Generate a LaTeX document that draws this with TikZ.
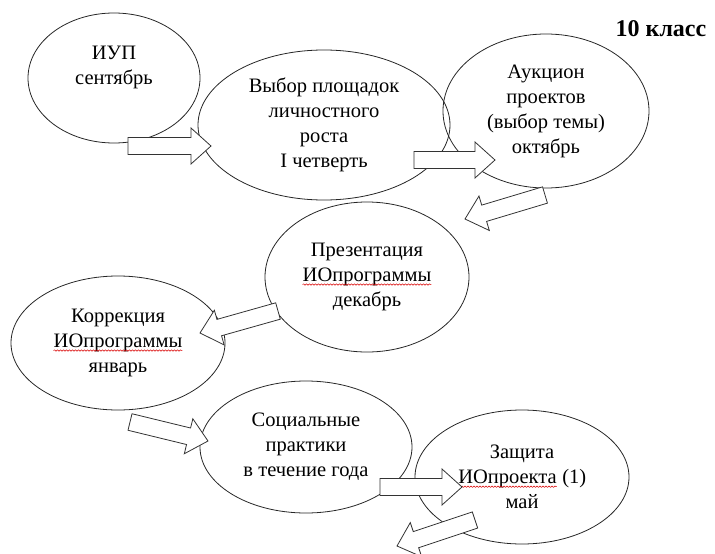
\documentclass[tikz,border=0pt]{standalone}
\usepackage{fontspec}
\setmainfont{Liberation Serif}
\usepackage{xcolor}
\usetikzlibrary{calc,shapes.geometric,decorations.pathmorphing}
\tikzstyle{stage} =
  [ ellipse
  , draw=black!85
  , line width=0.8pt
  , inner sep=0pt
  , align=center
  , font=\fontsize{20.5}{25}\selectfont
  ]
\tikzstyle{block_arrow} =
  [ draw=black!80
  , fill=white
  , line width=0.8pt
  , line join=miter
  ]
\tikzstyle{grade_label} =
  [ font=\bfseries\fontsize{24}{28}\selectfont
  , inner sep=0pt
  ]
\tikzstyle{spell_wave} =
  [ draw=red!85!black
  , line width=0.5pt
  , decorate
  , decoration={snake, amplitude=0.7pt, segment length=3pt}
  ]
\def\ShaftW{8.5pt}
\def\HeadW{18pt}
\def\HeadL{20pt}
\def\spell#1{\tikz[baseline=(word.base),x=1cm,y=1cm]{%
  \node[shape=rectangle, draw=none, inner sep=0pt, minimum width=0pt, minimum height=0pt] (word) {#1};
  \draw[spell_wave] ([yshift=-3pt]word.base west) -- ([yshift=-3pt]word.base east);}}
\def\IOprog{\spell{ИОпрограммы}}
\def\IOproj{\spell{ИОпроекта}}
% tail, tip
\newcommand{\blockarrow}[2]{%
  \draw[block_arrow]
    ($(#1)!\ShaftW!90:(#2)$)
    -- ($(#2)!\HeadL!(#1)!\ShaftW!90:(#2)$)
    -- ($(#2)!\HeadL!(#1)!\HeadW!90:(#2)$)
    -- (#2)
    -- ($(#2)!\HeadL!(#1)!\HeadW!-90:(#2)$)
    -- ($(#2)!\HeadL!(#1)!\ShaftW!-90:(#2)$)
    -- ($(#1)!\ShaftW!-90:(#2)$)
    -- cycle;}

\begin{document}
\begin{tikzpicture}[x=1pt,y=-1pt]
    \useasboundingbox (0,0) rectangle (715,554);

    \node[grade_label] (grade) at (661,29) {10 класс};

    % first half of the year
    \node[stage, minimum width=172pt, minimum height=130pt] (iup)          at (114,78)  {ИУП\\сентябрь\\~};
    \node[stage, minimum width=252pt, minimum height=150pt] (choice)       at (324,125) {Выбор площадок\\личностного\\роста\\I четверть};
    \node[stage, minimum width=206pt, minimum height=154pt] (auction)      at (546,111) {Аукцион\\проектов\\(выбор темы)\\октябрь};
    \node[stage, minimum width=204pt, minimum height=150pt] (presentation) at (367,277) {Презентация\\\IOprog\\декабрь};

    % second half of the year
    \node[stage, minimum width=214pt, minimum height=134pt] (correction)   at (118,343) {Коррекция\\\IOprog\\январь};
    \node[stage, minimum width=212pt, minimum height=132pt] (practice)     at (306,447) {Социальные\\практики\\в течение года};
    \node[stage, minimum width=214pt, minimum height=134pt] (defence)      at (522,477) {Защита\\\IOproj{} (1)\\май};

    % block arrows between the stages
    \coordinate (iup_out)          at (128,146);
    \coordinate (choice_in)        at (211,146);
    \coordinate (choice_out)       at (414,160);
    \coordinate (auction_in)       at (495,160);
    \coordinate (auction_out)      at (545,195);
    \coordinate (presentation_in)  at (465,219);
    \coordinate (presentation_out) at (278,311);
    \coordinate (correction_in)    at (200,333);
    \coordinate (correction_out)   at (130,422);
    \coordinate (practice_in)      at (208,441);
    \coordinate (practice_out)     at (380,487);
    \coordinate (defence_in)       at (462,487);
    \coordinate (defence_out)      at (475,520);
    \coordinate (next_in)          at (397,546);

    \blockarrow{iup_out}{choice_in}
    \blockarrow{choice_out}{auction_in}
    \blockarrow{auction_out}{presentation_in}
    \blockarrow{presentation_out}{correction_in}
    \blockarrow{correction_out}{practice_in}
    \blockarrow{practice_out}{defence_in}
    \blockarrow{defence_out}{next_in}
\end{tikzpicture}
\end{document}
